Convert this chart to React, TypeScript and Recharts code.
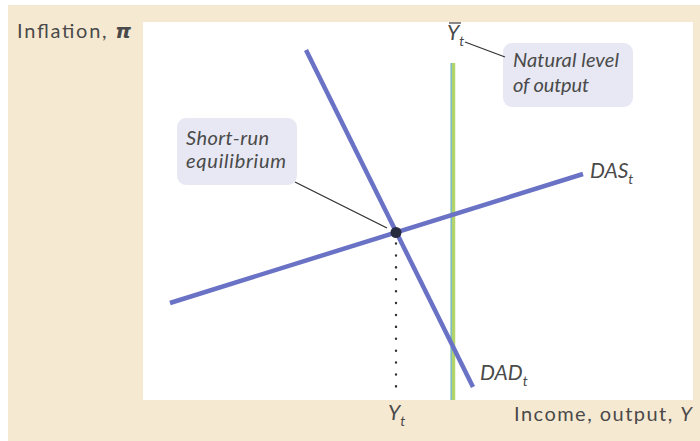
import { LineChart, Line, XAxis, YAxis, ReferenceLine, ReferenceDot, ReferenceArea } from "recharts";

// data units: x 0..110, y 0..75.6 (plot area 550 x 378 px)
const dadCurve = [
  { x: 32.6, y: 70.0 },
  { x: 66.0, y: 2.6 },
];
const dasCurve = [
  { x: 5.4, y: 19.4 },
  { x: 88.0, y: 45.2 },
];
const naturalOutput = { x: 62, yTop: 67.4 };
const equilibrium = { x: 50.6, y: 33.5 };

const naturalBox = { x1: 72, x2: 98, y1: 58.6, y2: 71.4 };
const shortRunBox = { x1: 6.8, x2: 30.8, y1: 43, y2: 56.4 };
const naturalLeader = [
  { x: 64.4, y: 71.6 },
  { x: 72.4, y: 68.6 },
];
const shortRunLeader = [
  { x: 30.4, y: 43.6 },
  { x: 48.8, y: 34.4 },
];

// text, position (data units) and measured width in the reference (px)
const labels = [
  { x: 74, y: 66.6, text: "Natural level", italic: true, width: 106 },
  { x: 74, y: 61.6, text: "of output", italic: true, width: 76 },
  { x: 8.6, y: 51, text: "Short-run", italic: true, width: 83 },
  { x: 8.6, y: 46.4, text: "equilibrium", italic: true, width: 100 },
  { x: -25.2, y: 72.4, text: "Inflation, ", italic: false, width: 114 },
  { x: 74.2, y: -4.2, text: "Income, output, ", italic: false, width: 178 },
];

const subLabels = [
  { x: 89.4, y: 44.4, base: "DAS", sub: "t", bar: false },
  { x: 67.4, y: 4, base: "DAD", sub: "t", bar: false },
  { x: 49, y: -4, base: "Y", sub: "t", bar: false },
  { x: 60.8, y: 72, base: "Y", sub: "t", bar: true },
];

const font = "Lato, 'Open Sans', sans-serif";
const textColor = "#4a4a4a";
const blue = "#6a72c6";

function PlainText(props: any, text: string, italic: boolean, width: number) {
  const { cx, cy } = props;
  const isInflation = text.startsWith("Inflation");
  const isIncome = text.startsWith("Income");
  return (
    <text
      x={cx}
      y={cy}
      fontFamily={font}
      fontSize={20}
      fontStyle={italic ? "italic" : "normal"}
      fill={textColor}
      textLength={width}
      lengthAdjust="spacing"
    >
      {text}
      {isInflation && (
        <tspan fontStyle="italic" fontWeight="bold" fontFamily="'DejaVu Sans', sans-serif">
          π
        </tspan>
      )}
      {isIncome && <tspan fontStyle="italic">Y</tspan>}
    </text>
  );
}

function SubText(props: any, base: string, sub: string, bar: boolean) {
  const { cx, cy } = props;
  return (
    <g>
      {bar && <line x1={cx + 2} x2={cx + 14} y1={cy - 17} y2={cy - 17} stroke={textColor} strokeWidth={1.3} />}
      <text x={cx} y={cy} fontFamily={font} fontSize={21} fontStyle="italic" fill={textColor}>
        {base}
        <tspan fontSize={14} dy={6}>
          {sub}
        </tspan>
      </text>
    </g>
  );
}

const boxShape = (p: any) => (
  <rect x={p.x} y={p.y} width={p.width} height={p.height} rx={9} ry={9} fill="#e7e8f3" />
);

export default function App() {
  return (
    <div style={{ position: "absolute", left: 0, top: 0, width: 700, height: 441, background: "#ffffff" }}>
      <div
        style={{ position: "absolute", left: 8, top: 5, width: 692, height: 436, background: "#f6e9d2" }}
      />
      <div style={{ position: "absolute", left: 0, top: 0 }}>
        <LineChart width={700} height={441} margin={{ top: 22, right: 7, bottom: 41, left: 143 }}>
          <ReferenceArea x1={0} x2={110} y1={0} y2={75.6} fill="#ffffff" fillOpacity={1} ifOverflow="visible" />
          <XAxis
            type="number"
            dataKey="x"
            domain={[0, 110]}
            allowDataOverflow
            tick={false}
            tickLine={false}
            height={0}
            axisLine={{ stroke: "#555a55", strokeWidth: 1.5 }}
          />
          <YAxis
            type="number"
            dataKey="y"
            domain={[0, 75.6]}
            allowDataOverflow
            tick={false}
            tickLine={false}
            width={0}
            axisLine={{ stroke: "#555a55", strokeWidth: 1.5 }}
          />
          <ReferenceArea {...naturalBox} shape={boxShape} ifOverflow="visible" />
          <ReferenceArea {...shortRunBox} shape={boxShape} ifOverflow="visible" />
          <ReferenceLine segment={naturalLeader} stroke="#333" strokeWidth={1.3} ifOverflow="visible" />
          <ReferenceLine segment={shortRunLeader} stroke="#333" strokeWidth={1.3} ifOverflow="visible" />
          <ReferenceLine
            segment={[
              { x: equilibrium.x, y: equilibrium.y - 2.2 },
              { x: equilibrium.x, y: 0.6 },
            ]}
            stroke="#333"
            strokeWidth={2.4}
            strokeDasharray="0.1 11.8"
            strokeLinecap="round"
          />
          <ReferenceLine
            segment={[
              { x: naturalOutput.x, y: 0 },
              { x: naturalOutput.x, y: naturalOutput.yTop },
            ]}
            stroke="#b2d46a"
            strokeWidth={4.5}
          />
          <ReferenceLine
            segment={[
              { x: naturalOutput.x - 0.35, y: 0 },
              { x: naturalOutput.x - 0.35, y: naturalOutput.yTop },
            ]}
            stroke="#7dbcc4"
            strokeWidth={1.5}
          />
          <Line
            data={dasCurve}
            dataKey="y"
            type="linear"
            stroke={blue}
            strokeWidth={4.5}
            dot={false}
            isAnimationActive={false}
          />
          <Line
            data={dadCurve}
            dataKey="y"
            type="linear"
            stroke={blue}
            strokeWidth={4.5}
            dot={false}
            isAnimationActive={false}
          />
          <ReferenceDot x={equilibrium.x} y={equilibrium.y} r={5.5} fill="#262b40" stroke="none" />
          {labels.map((l) => (
            <ReferenceDot
              key={l.text}
              x={l.x}
              y={l.y}
              ifOverflow="visible"
              shape={(p: any) => PlainText(p, l.text, l.italic, l.width)}
            />
          ))}
          {subLabels.map((l, i) => (
            <ReferenceDot
              key={i}
              x={l.x}
              y={l.y}
              ifOverflow="visible"
              shape={(p: any) => SubText(p, l.base, l.sub, l.bar)}
            />
          ))}
        </LineChart>
      </div>
    </div>
  );
}
